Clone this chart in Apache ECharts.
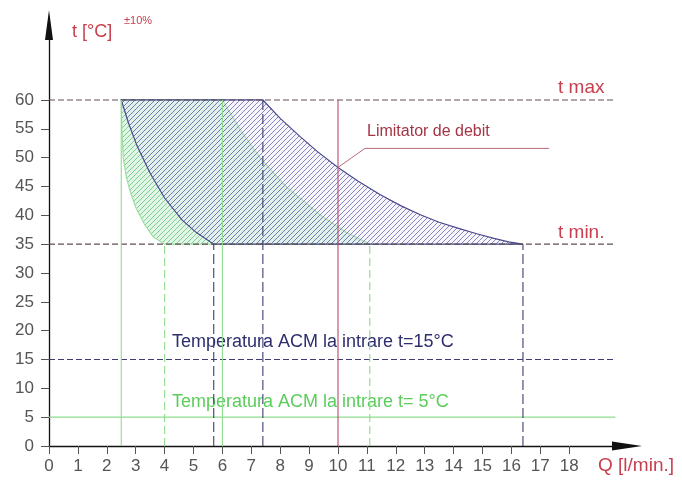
<!DOCTYPE html>
<html>
<head>
<meta charset="utf-8">
<script src="https://cdn.jsdelivr.net/npm/echarts@6/dist/echarts.min.js"></script>
<style>
  html, body { margin: 0; padding: 0; background: #fff; }
  #chart { width: 682px; height: 487px; }
</style>
</head>
<body>
<div id="chart"></div>
<script>
// tick labels
const qTicks = [0, 1, 2, 3, 4, 5, 6, 7, 8, 9, 10, 11, 12, 13, 14, 15, 16, 17, 18]
const tTicks = [0, 5, 10, 15, 20, 25, 30, 35, 40, 45, 50, 55, 60]

// temperature limits and inlet temperatures [°C]
const tMax = 60
const tMin = 35
const inletBlue = 15
const inletGreen = 5
const refLineEnd = 19.6
const debitLimit = 10

// curves, [Q l/min, t °C]
const blueLeft = [[2.5, 60], [2.75, 56], [3.05, 52], [3.5, 47.3], [4.0, 43], [4.6, 39.2], [5.1, 37], [5.7, 35]]
const blueRight = [[7.4, 60], [8.0, 56.8], [8.7, 53.6], [9.3, 51.0], [10, 48.3], [10.7, 45.9], [11.45, 43.6], [12.2, 41.6],
  [12.85, 40.1], [13.5, 38.8], [14.2, 37.7], [14.8, 36.8], [15.4, 36.0], [15.9, 35.4], [16.4, 35]]
const greenLeft = [[2.5, 60], [2.52, 55], [2.57, 50], [2.68, 46.5], [2.82, 44], [3.0, 41.4], [3.3, 38.5], [3.6, 36.3], [4.0, 35]]
const greenRight = [[6.0, 60], [6.3, 57.5], [6.6, 55], [6.95, 52.5], [7.3, 50], [7.75, 47.5], [8.2, 45], [8.8, 42.5],
  [9.4, 40], [9.85, 38.5], [10.3, 37], [10.7, 36], [11.1, 35]]

// vertical guides [Q, top t]
const greenVerticals = [[2.5, 60], [4.0, 35], [6.0, 60], [11.1, 35]]
const blueVerticals = [[5.7, 35], [7.4, 60], [16.4, 35]]
const leaderLine = [[10, 48.3], [10.93, 51.6], [17.3, 51.6]]

const chart = echarts.init(document.getElementById('chart'))

function hatch(color, size, bg) {
  const c = document.createElement('canvas')
  c.width = size
  c.height = size
  const ctx = c.getContext('2d')
  if (bg) {
    ctx.fillStyle = bg
    ctx.fillRect(0, 0, size, size)
  }
  ctx.strokeStyle = color
  ctx.lineWidth = 1
  ctx.beginPath()
  ctx.moveTo(-1, size + 1)
  ctx.lineTo(size + 1, -1)
  ctx.moveTo(-1, 1)
  ctx.lineTo(1, -1)
  ctx.moveTo(size - 1, size + 1)
  ctx.lineTo(size + 1, size - 1)
  ctx.stroke()
  return c
}

function areaSeries(points, fill, stroke, z) {
  return {
    type: 'custom',
    coordinateSystem: 'cartesian2d',
    silent: true,
    z,
    data: [[0, 0]],
    renderItem: (params, api) => ({
      type: 'polygon',
      shape: { points: points.map(p => api.coord(p)) },
      style: { fill, stroke, lineWidth: 1.2 }
    })
  }
}

function lineSeries(data, color, type, width, z) {
  return {
    type: 'line',
    data,
    symbol: 'none',
    silent: true,
    z: z || 3,
    lineStyle: { color, type, width: width || 1 }
  }
}

const series = []
// green zone (inlet 5 °C), then blue zone (inlet 15 °C) on top
series.push(areaSeries(greenLeft.concat(greenRight.slice().reverse()),
  { image: hatch('rgba(110,200,130,0.85)', 5, 'rgba(205,240,215,0.6)'), repeat: 'repeat' }, '#9ddf9d', 2))
series.push(areaSeries(blueLeft.concat(blueRight.slice().reverse()),
  { image: hatch('rgba(95,95,175,0.75)', 5, 'rgba(225,225,245,0.3)'), repeat: 'repeat' }, '#4a4a8e', 2))

// horizontal reference lines
series.push(lineSeries([[0, tMax], [refLineEnd, tMax]], '#5e4e56', [6, 3], 1.1))
series.push(lineSeries([[0, tMin], [refLineEnd, tMin]], '#5e4e56', [6, 3], 1.1))
series.push(lineSeries([[0, inletBlue], [refLineEnd, inletBlue]], '#3e3e72', [6, 3], 1.1))
series.push(lineSeries([[0, inletGreen], [refLineEnd, inletGreen]], '#8ede8e', 'solid', 1.1))

// vertical guides
greenVerticals.forEach((v, i) => {
  series.push(lineSeries([[v[0], 0], v], '#8fdc8f', i % 2 ? [8, 4] : 'solid', 1.1))
})
blueVerticals.forEach(v => {
  series.push(lineSeries([[v[0], 0], v], '#3c3c70', [10, 4], 1.1))
})
series.push(lineSeries([[debitLimit, 0], [debitLimit, tMax]], '#b84c6a', 'solid', 1.1))
series.push(lineSeries(leaderLine, '#b86a78', 'solid', 1))

const red = '#c8404e'
const font = '"Liberation Sans", Arial, sans-serif'

chart.setOption({
  animation: false,
  grid: { left: 49, right: 55, top: 25, bottom: 41 },
  xAxis: {
    type: 'value',
    min: 0,
    max: 20,
    splitLine: { show: false },
    axisLine: {
      show: true,
      symbol: ['none', 'triangle'],
      symbolSize: [9, 30],
      lineStyle: { color: '#111', width: 1.3 }
    },
    axisTick: { show: true, customValues: qTicks, length: 8, lineStyle: { color: '#555' } },
    axisLabel: { customValues: qTicks, color: '#555', fontSize: 17, fontFamily: font, margin: 12 }
  },
  yAxis: {
    type: 'value',
    min: 0,
    max: 73,
    splitLine: { show: false },
    axisLine: {
      show: true,
      symbol: ['none', 'triangle'],
      symbolSize: [8, 30],
      lineStyle: { color: '#111', width: 1.3 }
    },
    axisTick: { show: true, customValues: tTicks, length: 8, lineStyle: { color: '#555' } },
    axisLabel: { customValues: tTicks, color: '#555', fontSize: 17, fontFamily: font, margin: 15 }
  },
  graphic: [
    { type: 'text', left: 72, top: 23, style: { text: 't [°C]', fill: red, font: '18px ' + font } },
    { type: 'text', left: 124, top: 15, style: { text: '±10%', fill: red, font: '11px ' + font } },
    { type: 'text', left: 598, top: 456, style: { text: 'Q [l/min.]', fill: red, font: '19px ' + font } },
    { type: 'text', left: 558, top: 78, style: { text: 't max', fill: red, font: '19px ' + font } },
    { type: 'text', left: 558, top: 223, style: { text: 't min.', fill: red, font: '19px ' + font } },
    { type: 'text', left: 367, top: 124, style: { text: 'Limitator de debit', fill: '#a53445', font: '16px ' + font } },
    { type: 'text', left: 172, top: 333, style: { text: 'Temperatura ACM la intrare t=15°C', fill: '#2e2e6e', font: '18px ' + font } },
    { type: 'text', left: 172, top: 393, style: { text: 'Temperatura ACM la intrare t= 5°C', fill: '#5ccc5c', font: '18px ' + font } }
  ],
  series
})
</script>
</body>
</html>
